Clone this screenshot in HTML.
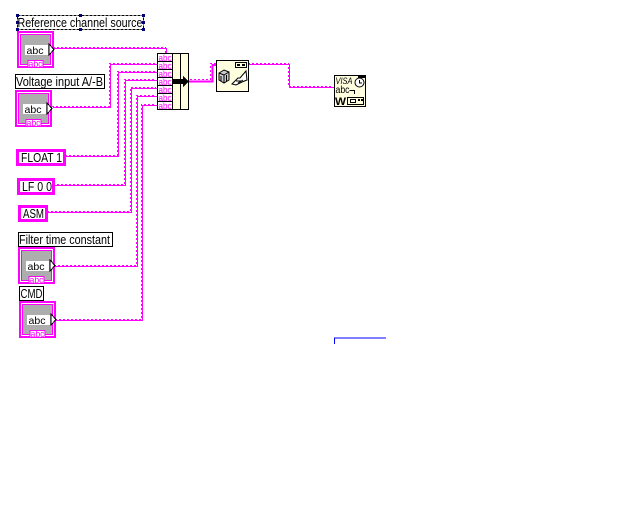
<!DOCTYPE html>
<html><head><meta charset="utf-8"><style>
html,body{margin:0;padding:0;background:#fff}
svg{display:block}
text{font-family:"Liberation Sans",sans-serif;fill:#000}
.w{fill:none;stroke:#ff00ff;stroke-width:1}
.d{fill:none;stroke:#ff00ff;stroke-width:1;stroke-dasharray:2 2}
</style></head><body>
<svg width="640" height="512" viewBox="0 0 640 512" xmlns="http://www.w3.org/2000/svg" shape-rendering="crispEdges">
<defs>
<g id="wires">
<path d="M54 48.500H166.500V54"/>
<path d="M53 107.500H110.500V64.500H157"/>
<path d="M66 156.500H118.500V72.500H157"/>
<path d="M54 185.500H125.500V80.500H157"/>
<path d="M48 212.500H131.500V88.500H157"/>
<path d="M55 266.500H137.500V96.500H157"/>
<path d="M56 320.500H142.500V105.500H157"/>
<path d="M249 64.500H289.500V87.500H334"/>
</g>
<g id="ctl">
<rect x="0" y="0" width="37" height="37" fill="#ff00ff"/>
<rect x="2" y="2" width="33" height="33" fill="#fff"/>
<rect x="3" y="3" width="31" height="31" fill="#ff00ff"/>
<rect x="4" y="4" width="29" height="29" fill="#adadad"/>
<rect x="8" y="14" width="23" height="10" fill="#fff"/>
<text x="9.500" y="23" font-size="10.500" textLength="17" lengthAdjust="spacingAndGlyphs">abc</text>
<polygon points="32,13 32,24 37,18.500" fill="#fff" stroke="#000"/>
<rect x="11" y="29.500" width="15" height="7" fill="#fff" stroke="#ff00ff"/>
<text x="11.500" y="36" font-size="9.500" textLength="14" lengthAdjust="spacingAndGlyphs" style="fill:#ff00ff">abc</text>
</g>
<g id="cell"><rect x="0" y="0" width="15" height="8" fill="#fff" stroke="#000"/><text x="1" y="7.500" font-size="9.500" textLength="13" lengthAdjust="spacingAndGlyphs" style="fill:#ff00ff">abc</text></g>
</defs>

<!-- wires -->
<use href="#wires" class="w"/>
<use href="#wires" class="d" x="-1" y="-1"/>
<path class="w" stroke-width="2" d="M189 81.500H212.500V65H216" style="stroke-width:2"/>
<path class="d" d="M190 79.500H210.500V63.500H216"/>

<!-- labels -->
<rect x="17.500" y="15.500" width="126" height="14" fill="#fff" stroke="#000" stroke-dasharray="3 1"/>
<g fill="#00007f"><rect x="16" y="14" width="3" height="3"/><rect x="79" y="14" width="3" height="3"/><rect x="142" y="14" width="3" height="3"/><rect x="16" y="21" width="3" height="3"/><rect x="142" y="21" width="3" height="3"/><rect x="79" y="28" width="3" height="3"/><rect x="142" y="28" width="3" height="3"/><rect x="16" y="28" width="3" height="3"/></g>
<text x="17.500" y="27" font-size="13" textLength="125" lengthAdjust="spacingAndGlyphs">Reference channel source</text>

<rect x="15.500" y="74.500" width="89" height="14" fill="#fff" stroke="#000"/>
<text x="16" y="86" font-size="13" textLength="87" lengthAdjust="spacingAndGlyphs">Voltage input A/-B</text>

<rect x="18.500" y="232.500" width="94" height="14" fill="#fff" stroke="#000"/>
<text x="19" y="244" font-size="13" textLength="91" lengthAdjust="spacingAndGlyphs">Filter time constant</text>

<rect x="19.500" y="286.500" width="24" height="14" fill="#fff" stroke="#000"/>
<text x="20.500" y="298" font-size="13" textLength="22" lengthAdjust="spacingAndGlyphs">CMD</text>

<!-- controls -->
<use href="#ctl" x="17" y="31"/>
<use href="#ctl" x="15" y="90"/>
<use href="#ctl" x="18" y="247"/>
<use href="#ctl" x="19" y="301"/>

<!-- constants -->
<rect x="17.500" y="150.500" width="47" height="14" fill="#fff" stroke="#ff00ff" stroke-width="3"/>
<text x="21" y="162" font-size="13" textLength="41" lengthAdjust="spacingAndGlyphs">FLOAT 1</text>
<rect x="18.500" y="179.500" width="35" height="14" fill="#fff" stroke="#ff00ff" stroke-width="3"/>
<text x="22" y="191" font-size="13" textLength="30" lengthAdjust="spacingAndGlyphs">LF 0 0</text>
<rect x="19.500" y="206.500" width="27" height="14" fill="#fff" stroke="#ff00ff" stroke-width="3"/>
<text x="23" y="218" font-size="13" textLength="21" lengthAdjust="spacingAndGlyphs">ASM</text>

<!-- bundle node -->
<rect x="172.500" y="53.500" width="16" height="56" fill="#ffffe0" stroke="#000"/>
<path d="M180.500 53.500V109.500" stroke="#000" fill="none"/>
<use href="#cell" x="157.500" y="53.500"/>
<use href="#cell" x="157.500" y="61.500"/>
<use href="#cell" x="157.500" y="69.500"/>
<use href="#cell" x="157.500" y="77.500"/>
<use href="#cell" x="157.500" y="85.500"/>
<use href="#cell" x="157.500" y="93.500"/>
<use href="#cell" x="157.500" y="101.500"/>
<rect x="173" y="79" width="12" height="5" fill="#000"/>
<polygon points="183,75.500 188.500,81.500 183,87.500" fill="#000"/>

<!-- flatten/queue node -->
<rect x="216.500" y="60.500" width="32" height="31" fill="#ffffe0" stroke="#000"/>
<rect x="235.500" y="62.500" width="11" height="5" fill="#ffffe0" stroke="#000"/>
<rect x="237" y="64" width="3" height="2" fill="#000"/><rect x="242" y="64" width="3" height="2" fill="#000"/>
<g shape-rendering="auto" fill="none" stroke="#000">
<path d="M219 73L224 70L229 72V80L224 83L219 80Z" fill="#ccc"/>
<path d="M219 73L224 75L229 72M224 75V83M221 76V81M226.500 75V81"/>
<path d="M232 84L238 78L240 78L246 71L247 80L242 82L236 85Z" fill="#fff"/>
<path d="M236 81H241M238 83L243 80"/>
</g>

<!-- VISA node -->
<rect x="334.500" y="75.500" width="31" height="31" fill="#ffffe0" stroke="#000"/>
<text x="335.500" y="84" font-size="9" font-style="italic" textLength="17" lengthAdjust="spacingAndGlyphs">VISA</text>
<text x="335.500" y="93" font-size="10" textLength="14" lengthAdjust="spacingAndGlyphs">abc</text>
<path d="M349.500 90.500H354.500V94" stroke="#000" fill="none"/>
<circle cx="359.500" cy="82.500" r="4.500" fill="#fff" stroke="#000" shape-rendering="auto"/>
<path d="M359.500 80V83H362" stroke="#000" fill="none"/>
<rect x="358" y="75" width="8" height="3" fill="#000"/>
<text x="335" y="105" font-size="11" font-weight="bold" textLength="11" lengthAdjust="spacingAndGlyphs">W</text>
<rect x="347.500" y="97.500" width="16" height="7" fill="#ffffe0" stroke="#000"/>
<rect x="350.500" y="99.500" width="5" height="3" fill="#fff" stroke="#000"/>
<rect x="358" y="99" width="2" height="2" fill="#000"/><rect x="361" y="99" width="2" height="2" fill="#000"/>

<!-- blue corner -->
<path d="M334.500 344V338H386" stroke="#0000ff" fill="none"/>
</svg>
</body></html>
